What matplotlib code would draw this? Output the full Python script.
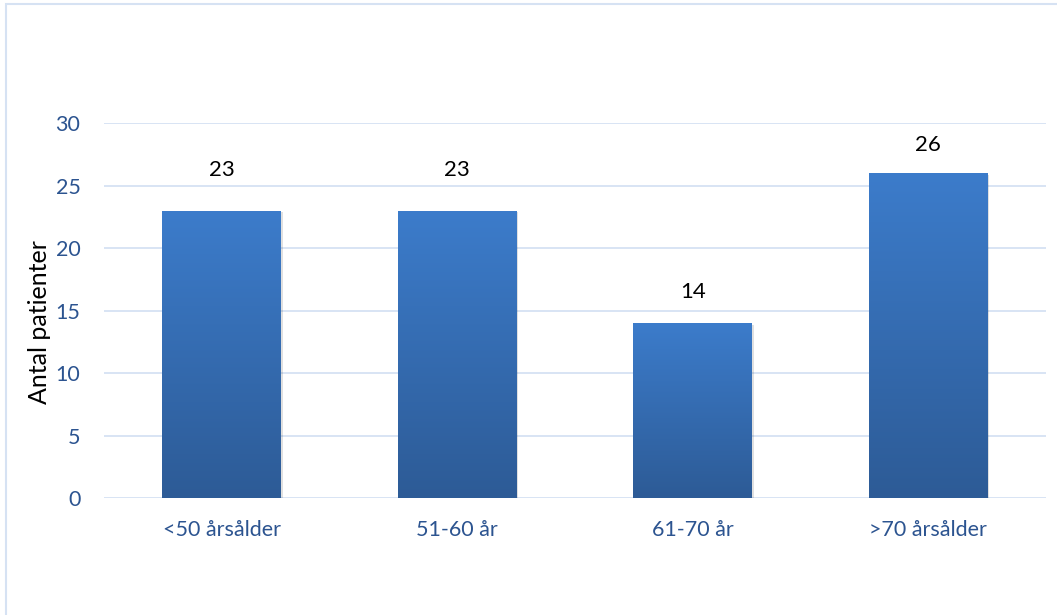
import numpy as np
import matplotlib.pyplot as plt
from matplotlib.patches import Rectangle
from matplotlib.colors import LinearSegmentedColormap

categories = ['<50 årsålder', '51-60 år', '61-70 år', '>70 årsålder']
patients = [23, 23, 14, 26]
yticks = [0, 5, 10, 15, 20, 25, 30]
# distance (points) of each data label above its bar, as placed in the original
label_gap = [29, 29, 22, 20]

plt.rcParams['font.family'] = ['Lato', 'DejaVu Sans']

fig = plt.figure(figsize=(10.57, 6.15), dpi=100)
ax = fig.add_axes([0.0984, 0.1902, 0.8912, 0.6098])

# outer chart frame (only left and top edges visible in the original)
fig.patches.append(Rectangle((6 / 1057, -0.1), 1.2, (611 / 615) + 0.1, transform=fig.transFigure,
                             fill=False, edgecolor='#d6e2f3', linewidth=1.5))

x = np.arange(len(categories))
bars = ax.bar(x, patients, width=0.505, color='none', zorder=3)

grad = LinearSegmentedColormap.from_list('g', ['#2d5b96', '#3c7ccb'])
img = np.linspace(0, 1, 256).reshape(-1, 1)
for b, v, gap in zip(bars, patients, label_gap):
    x0 = b.get_x()
    w = b.get_width()
    # soft shadow
    ax.add_patch(Rectangle((x0 + 0.006, -0.12), w, v, facecolor='#000000', alpha=0.12,
                           edgecolor='none', zorder=2))
    im = ax.imshow(img, extent=(x0, x0 + w, 0, v), origin='lower', cmap=grad,
                   aspect='auto', zorder=3)
    im.set_clip_path(b)
    ax.annotate(str(v), (x0 + w / 2, v), xytext=(0, gap), textcoords='offset points',
                ha='center', va='center', fontsize=16, color='#000000', zorder=4)

ax.set_xlim(-0.5, len(categories) - 0.5)
ax.set_ylim(0, 30)
ax.set_yticks(yticks)
ax.set_xticks(x)
ax.set_xticklabels(categories)
ax.grid(axis='y', color='#d6e2f3', linewidth=1.3, zorder=0)
ax.set_axisbelow(True)
for s in ax.spines.values():
    s.set_visible(False)
ax.tick_params(axis='both', length=0, labelsize=15.5, labelcolor='#2c5490')
ax.tick_params(axis='x', pad=16)
ax.tick_params(axis='y', pad=17)
ax.set_ylabel('Antal patienter', fontsize=18, color='#000000')
ax.yaxis.set_label_coords(-0.056, 0.47)

fig.savefig('out.png', dpi=100)
